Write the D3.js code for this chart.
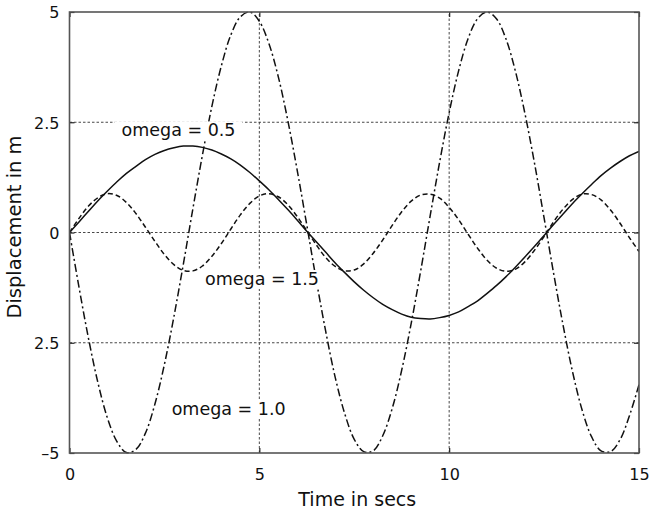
<!DOCTYPE html>
<html>
<head>
<meta charset="utf-8">
<script src="https://cdn.jsdelivr.net/npm/d3@7"></script>
<style>
  html, body { margin: 0; padding: 0; background: #fff; }
  svg { display: block; }
  text { font-family: "DejaVu Sans", "Liberation Sans", sans-serif; fill: #111; }
</style>
</head>
<body>
<svg id="chart" width="652" height="512"></svg>
<script>
// ---- data ----
const timeSecs = [0,0.25,0.5,0.75,1,1.25,1.5,1.75,2,2.25,2.5,2.75,3,3.25,3.5,3.75,4,4.25,4.5,4.75,5,5.25,5.5,5.75,6,6.25,6.5,6.75,7,7.25,7.5,7.75,8,8.25,8.5,8.75,9,9.25,9.5,9.75,10,10.25,10.5,10.75,11,11.25,11.5,11.75,12,12.25,12.5,12.75,13,13.25,13.5,13.75,14,14.25,14.5,14.75,15];
const omega05 = [0,0.24,0.48,0.72,0.94,1.15,1.34,1.50,1.65,1.77,1.86,1.92,1.96,1.96,1.93,1.87,1.78,1.67,1.53,1.36,1.17,0.97,0.75,0.52,0.28,0.03,-0.21,-0.45,-0.69,-0.91,-1.12,-1.31,-1.48,-1.63,-1.75,-1.85,-1.92,-1.95,-1.96,-1.93,-1.88,-1.80,-1.68,-1.55,-1.38,-1.20,-1.00,-0.78,-0.55,-0.31,-0.07,0.18,0.42,0.66,0.88,1.09,1.29,1.46,1.61,1.74,1.84];
const omega10 = [0,-1.24,-2.40,-3.41,-4.21,-4.74,-4.99,-4.92,-4.55,-3.89,-2.99,-1.91,-0.71,0.54,1.75,2.86,3.78,4.48,4.89,5.00,4.79,4.29,3.53,2.54,1.40,0.17,-1.08,-2.25,-3.29,-4.11,-4.69,-4.97,-4.95,-4.61,-3.99,-3.12,-2.06,-0.87,0.38,1.60,2.72,3.67,4.40,4.85,5.00,4.84,4.38,3.64,2.68,1.56,0.33,-0.92,-2.10,-3.16,-4.02,-4.63,-4.95,-4.97,-4.70,-4.15,-3.45];
const omega15 = [0,0.32,0.60,0.79,0.88,0.84,0.68,0.43,0.12,-0.20,-0.50,-0.73,-0.86,-0.87,-0.76,-0.54,-0.25,0.08,0.40,0.66,0.83,0.88,0.81,0.63,0.36,0.04,-0.28,-0.57,-0.77,-0.87,-0.85,-0.71,-0.47,-0.17,0.16,0.47,0.71,0.85,0.87,0.78,0.57,0.29,-0.04,-0.36,-0.63,-0.81,-0.88,-0.83,-0.66,-0.40,-0.09,0.24,0.53,0.75,0.87,0.86,0.74,0.51,0.21,-0.12,-0.43];

const seriesNames = ["omega = 0.5", "omega = 1.0", "omega = 1.5"];
const xTickValues = [0, 5, 10, 15];
const xTickLabels = ["0", "5", "10", "15"];
const yTickValues = [-5, -2.5, 0, 2.5, 5];
const yTickLabels = ["\u20135", "2.5", "0", "2.5", "5"];
const xGridValues = [5, 10];
const yGridValues = [-2.5, 0, 2.5];
// label anchor points in data coordinates (time, displacement)
const labelTimes = [1.37, 2.69, 3.57];
const labelValues = [2.18, -4.13, -1.19];
const xTitle = "Time in secs";
const yTitle = "Displacement in m";

// ---- drawing ----
const svg = d3.select("#chart");
const x = d3.scaleLinear().domain([0, 15]).range([69.5, 639]);
const y = d3.scaleLinear().domain([-5, 5]).range([453, 12]);

const styles = [
  { dash: null },
  { dash: "8,3,2,3" },
  { dash: "5,3" }
];
const seriesValues = [omega05, omega10, omega15];

svg.append("defs").append("clipPath").attr("id", "clip")
  .append("rect")
  .attr("x", x(0)).attr("y", y(5) - 1)
  .attr("width", x(15) - x(0)).attr("height", y(-5) - y(5) + 2);

// gridlines
const grid = svg.append("g").attr("stroke", "#333").attr("stroke-width", 0.9).attr("stroke-dasharray", "2.5,2");
grid.selectAll("line.h").data(yGridValues).join("line")
  .attr("class", "h")
  .attr("x1", x(0)).attr("x2", x(15))
  .attr("y1", d => y(d)).attr("y2", d => y(d));
grid.selectAll("line.v").data(xGridValues).join("line")
  .attr("class", "v")
  .attr("y1", y(-5)).attr("y2", y(5))
  .attr("x1", d => x(d)).attr("x2", d => x(d));

// curves
const line = d3.line()
  .x((d, i) => x(timeSecs[i]))
  .y(d => y(d))
  .curve(d3.curveCatmullRom.alpha(0.5));

const curves = svg.append("g").attr("clip-path", "url(#clip)");
seriesValues.forEach((vals, k) => {
  curves.append("path")
    .datum(vals)
    .attr("d", line)
    .attr("fill", "none")
    .attr("stroke", "#111")
    .attr("stroke-width", 1.5)
    .attr("stroke-dasharray", styles[k].dash);
});

// axes (ticks inward)
const fmtX = d => xTickLabels[xTickValues.indexOf(d)];
const fmtY = d => yTickLabels[yTickValues.indexOf(d)];

const gx = svg.append("g").attr("transform", `translate(0,${y(-5)})`)
  .call(d3.axisBottom(x).tickValues(xTickValues).tickSize(-5).tickPadding(16).tickFormat(fmtX));
const gy = svg.append("g").attr("transform", `translate(${x(0)},0)`)
  .call(d3.axisLeft(y).tickValues(yTickValues).tickSize(-5).tickPadding(10).tickFormat(fmtY));
const gt = svg.append("g").attr("transform", `translate(0,${y(5)})`)
  .call(d3.axisTop(x).tickValues(xTickValues).tickSize(-5).tickFormat(""));
const gr = svg.append("g").attr("transform", `translate(${x(15)},0)`)
  .call(d3.axisRight(y).tickValues(yTickValues).tickSize(-5).tickFormat(""));

[gx, gy, gt, gr].forEach(g => {
  g.select(".domain").remove();
  g.selectAll(".tick line").attr("stroke", "#222").attr("stroke-width", 1.2);
  g.selectAll(".tick text")
    .style("font-family", '"DejaVu Sans", sans-serif')
    .style("font-size", "16px")
    .attr("fill", "#111");
});
gy.selectAll(".tick text").attr("dy", "0.36em");

// frame
svg.append("rect")
  .attr("x", x(0)).attr("y", y(5))
  .attr("width", x(15) - x(0)).attr("height", y(-5) - y(5))
  .attr("fill", "none").attr("stroke", "#555").attr("stroke-width", 1.6);

// curve labels with white boxes
const labels = svg.append("g");
seriesNames.forEach((name, k) => {
  const g = labels.append("g");
  const t = g.append("text")
    .attr("x", x(labelTimes[k]))
    .attr("y", y(labelValues[k]))
    .style("font-size", "17.5px")
    .text(name);
  const bb = t.node().getBBox();
  g.insert("rect", "text")
    .attr("x", bb.x - 7).attr("y", bb.y + 1)
    .attr("width", bb.width + 14).attr("height", bb.height - 1)
    .attr("fill", "#fff");
});

// axis titles
svg.append("text")
  .attr("x", (x(0) + x(15)) / 2 + 3)
  .attr("y", 506)
  .attr("text-anchor", "middle")
  .style("font-size", "19px")
  .text(xTitle);

svg.append("text")
  .attr("transform", `translate(21,227) rotate(-90)`)
  .attr("text-anchor", "middle")
  .style("font-size", "19.5px")
  .text(yTitle);
</script>
</body>
</html>
